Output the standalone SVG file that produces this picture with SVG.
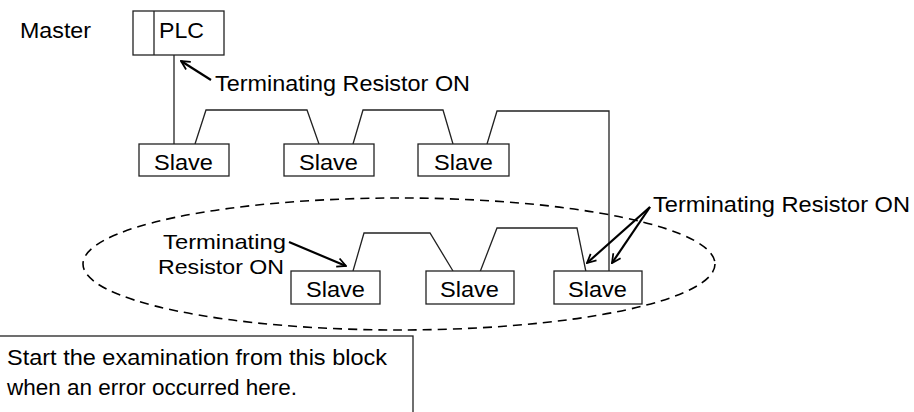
<svg xmlns="http://www.w3.org/2000/svg" width="914" height="412" viewBox="0 0 914 412">
<defs>
<style>
text{font-family:"Liberation Sans",Arial,sans-serif;font-size:22.5px;fill:#000}
.tight{font-size:21px}
.box{fill:#fff;stroke:#222;stroke-width:1.3}
.wire{fill:none;stroke:#222;stroke-width:1.3}
.arr{fill:none;stroke:#000;stroke-width:2.2;marker-end:url(#ah)}
.dash{fill:none;stroke:#000;stroke-width:1.6;stroke-dasharray:9 6}
</style>
<marker id="ah" viewBox="0 0 10 10" refX="9" refY="5" markerWidth="5" markerHeight="5" orient="auto" markerUnits="strokeWidth">
<path d="M1,1 L9,5 L1,9" fill="none" stroke="#000" stroke-width="1.6"/>
</marker>
</defs>
<rect width="914" height="412" fill="#fff"/>

<g id="connectors">
<path class="wire" d="M174,55 V144"/>
<path class="wire" d="M195,144 L206,110 H307 L319,144"/>
<path class="wire" d="M353,144 L363,110 H443 L453,144"/>
<path class="wire" d="M487,144 L497,111 H609 V272"/>
<path class="wire" d="M353,271 L364,233 H430 L453,271"/>
<path class="wire" d="M480,272 L497,228 H577 L586,272"/>
<path class="arr" d="M211,80 L181,61"/>
<path class="arr" d="M289,242 L346,266"/>
<path class="arr" d="M650,207 L587,263"/>
<path class="arr" d="M650,207 L612,263"/>
</g>

<g id="group-ellipse">
<ellipse class="dash" cx="399" cy="264" rx="316" ry="66"/>
</g>

<g id="master-label">
<text x="20" y="38" textLength="71" lengthAdjust="spacingAndGlyphs">Master</text>
</g>

<g id="plc">
<rect class="box" x="133" y="11" width="91" height="44"/>
<line class="wire" x1="154" y1="11" x2="154" y2="55"/>
<text x="159" y="38" textLength="45" lengthAdjust="spacingAndGlyphs">PLC</text>
</g>

<g id="slave1">
<rect class="box" x="139" y="144" width="90" height="32"/>
<text x="154" y="170" textLength="59" lengthAdjust="spacingAndGlyphs">Slave</text>
</g>
<g id="slave2">
<rect class="box" x="284" y="144" width="90" height="32"/>
<text x="299" y="170" textLength="59" lengthAdjust="spacingAndGlyphs">Slave</text>
</g>
<g id="slave3">
<rect class="box" x="418" y="144" width="91" height="32"/>
<text x="434" y="170" textLength="59" lengthAdjust="spacingAndGlyphs">Slave</text>
</g>
<g id="slave4">
<rect class="box" x="291" y="271" width="89" height="33"/>
<text x="306" y="297" textLength="59" lengthAdjust="spacingAndGlyphs">Slave</text>
</g>
<g id="slave5">
<rect class="box" x="426" y="271" width="88" height="33"/>
<text x="440" y="297" textLength="59" lengthAdjust="spacingAndGlyphs">Slave</text>
</g>
<g id="slave6">
<rect class="box" x="554" y="271" width="88" height="33"/>
<text x="568" y="297" textLength="59" lengthAdjust="spacingAndGlyphs">Slave</text>
</g>

<g id="label-term-top">
<text x="215" y="91" textLength="255" lengthAdjust="spacingAndGlyphs">Terminating Resistor ON</text>
</g>
<g id="label-term-right">
<text x="653" y="212" textLength="257" lengthAdjust="spacingAndGlyphs">Terminating Resistor ON</text>
</g>
<g id="label-term-left">
<text class="tight" x="163" y="249" textLength="123" lengthAdjust="spacingAndGlyphs">Terminating</text>
<text class="tight" x="158" y="274" textLength="126" lengthAdjust="spacingAndGlyphs">Resistor ON</text>
</g>

<g id="note">
<rect class="box" x="-2" y="336" width="415" height="90"/>
<text x="7" y="365" textLength="380" lengthAdjust="spacingAndGlyphs">Start the examination from this block</text>
<text x="7" y="395" textLength="290" lengthAdjust="spacingAndGlyphs">when an error occurred here.</text>
</g>
</svg>
